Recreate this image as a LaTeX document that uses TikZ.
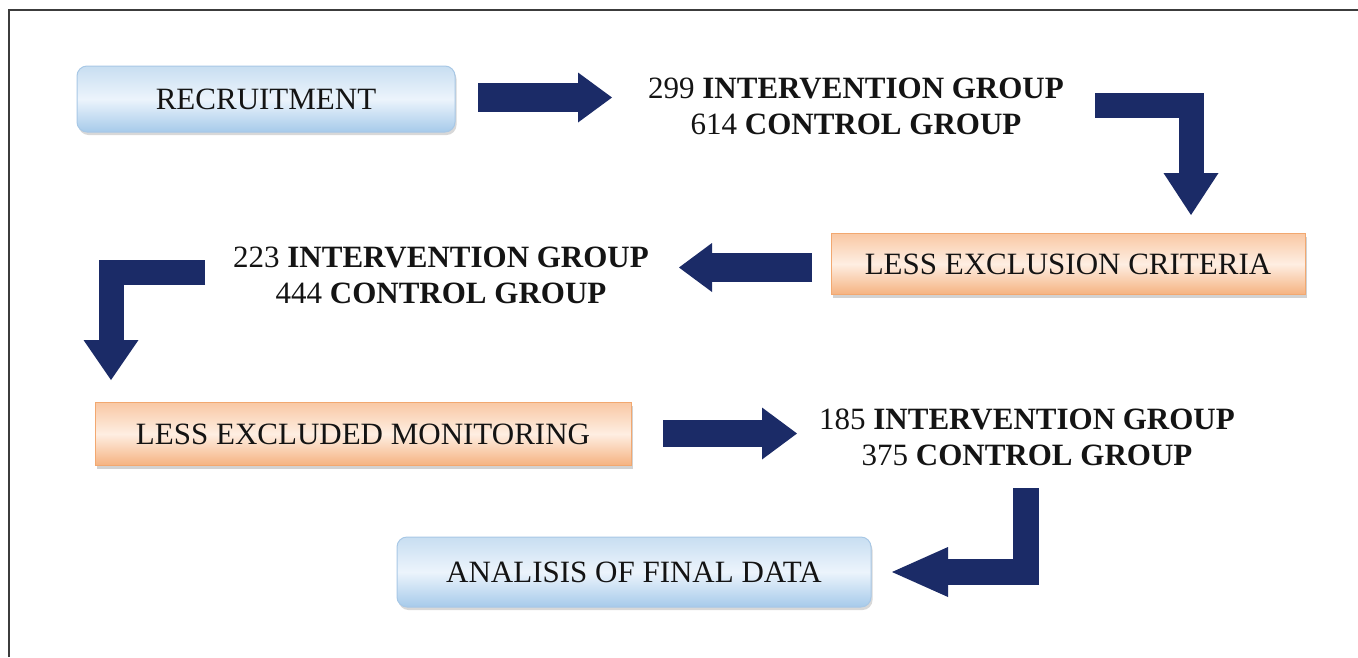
\documentclass[tikz,border=0pt]{standalone}
\usepackage{fontspec}
\setmainfont{Liberation Serif}
\usetikzlibrary{arrows.meta,shadows}
\definecolor{navy}{RGB}{27,43,103}
\definecolor{btop}{RGB}{200,222,241}
\definecolor{bmid}{RGB}{236,244,252}
\definecolor{bbot}{RGB}{166,202,234}
\definecolor{bedge}{RGB}{168,200,230}
\definecolor{otop}{RGB}{249,200,164}
\definecolor{omid}{RGB}{254,238,226}
\definecolor{obot}{RGB}{245,178,128}
\definecolor{oedge}{RGB}{242,168,112}
\definecolor{txt}{RGB}{20,20,20}
\definecolor{frame}{RGB}{60,60,60}
\begin{document}
\begin{tikzpicture}[x=1pt,y=-1pt,
  every node/.style={font=\fontsize{31}{36}\selectfont, text=txt, inner sep=0pt},
  bluebox/.style={draw=bedge, line width=1pt, rounded corners=10pt,
    top color=btop, bottom color=bbot, middle color=bmid,
    drop shadow={shadow xshift=1.5pt, shadow yshift=-3pt, fill=gray!60, opacity=0.5}},
  orangebox/.style={draw=oedge, line width=1pt,
    top color=otop, bottom color=obot, middle color=omid,
    drop shadow={shadow xshift=2pt, shadow yshift=-3pt, fill=gray!70, opacity=0.5}},
  grouptext/.style={align=center},
  fatarrow/.style={draw=navy, line width=#1, line join=miter}
]
\useasboundingbox (0,0) rectangle (1358,657);
\fill[white] (0,0) rectangle (1358,657);
% frame
\coordinate (fbl) at (9,657);
\coordinate (ftl) at (9,10);
\coordinate (ftr) at (1358,10);
\draw[frame, line width=1.5pt] (fbl) -- (ftl) -- (ftr);

% nodes
\node[bluebox, minimum width=378pt, minimum height=66pt] (rec) at (266,99) {RECRUITMENT};
\node[grouptext] (g1) at (856,106) {299 \textbf{INTERVENTION GROUP}\\614 \textbf{CONTROL GROUP}};
\node[orangebox, minimum width=474pt, minimum height=61pt] (lec) at (1068,264) {LESS EXCLUSION CRITERIA};
\node[grouptext] (g2) at (441,275) {223 \textbf{INTERVENTION GROUP}\\444 \textbf{CONTROL GROUP}};
\node[orangebox, minimum width=536pt, minimum height=63pt] (lem) at (363,434) {LESS EXCLUDED MONITORING};
\node[grouptext] (g3) at (1027,437) {185 \textbf{INTERVENTION GROUP}\\375 \textbf{CONTROL GROUP}};
\node[bluebox, minimum width=474pt, minimum height=70pt] (afd) at (634,572) {ANALISIS OF FINAL DATA};

% arrow coordinates
\coordinate (a1s) at (478,97.5);
\coordinate (a1e) at (612,97.5);
\coordinate (a2s) at (1095,105.5);
\coordinate (a2c) at (1191,105.5);
\coordinate (a2e) at (1191,215);
\coordinate (a3s) at (812,267.5);
\coordinate (a3e) at (679,267.5);
\coordinate (a4s) at (205,272.5);
\coordinate (a4c) at (111,272.5);
\coordinate (a4e) at (111,380);
\coordinate (a5s) at (663,433.5);
\coordinate (a5e) at (797,433.5);
\coordinate (a6s) at (1026,488);
\coordinate (a6c) at (1026,572);
\coordinate (a6e) at (892,572);

% arrows
\draw[fatarrow=29pt, -{Triangle[length=34pt,width=50pt,line width=0pt]}] (a1s) -- (a1e);
\draw[fatarrow=25pt, -{Triangle[length=42pt,width=55pt,line width=0pt]}] (a2s) -- (a2c) -- (a2e);
\draw[fatarrow=29pt, -{Triangle[length=33pt,width=49pt,line width=0pt]}] (a3s) -- (a3e);
\draw[fatarrow=25pt, -{Triangle[length=40pt,width=55pt,line width=0pt]}] (a4s) -- (a4c) -- (a4e);
\draw[fatarrow=27pt, -{Triangle[length=35pt,width=52pt,line width=0pt]}] (a5s) -- (a5e);
\draw[fatarrow=26pt, -{Triangle[length=56pt,width=50pt,line width=0pt]}] (a6s) -- (a6c) -- (a6e);
\end{tikzpicture}
\end{document}
